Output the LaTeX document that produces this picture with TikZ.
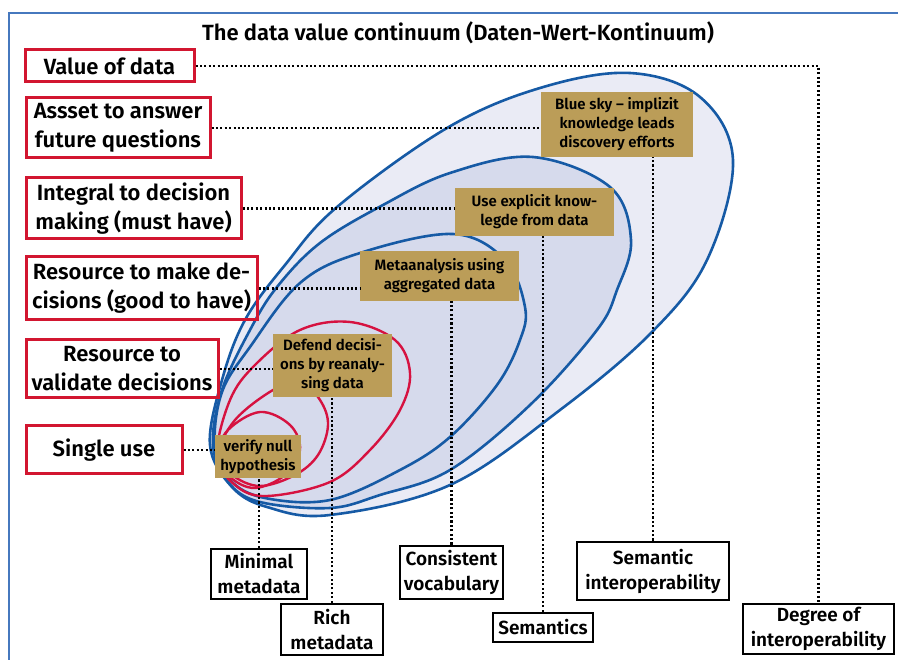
\documentclass[tikz,border=0pt]{standalone}
\usepackage{fontspec}
\setmainfont{Fira Sans}[BoldFont={Fira Sans SemiBold}]
\definecolor{loopblue}{RGB}{22,90,165}
\definecolor{looppink}{RGB}{214,18,64}
\definecolor{outerfill}{RGB}{234,235,245}
\definecolor{innerfill}{RGB}{214,218,236}
\definecolor{gold}{RGB}{187,157,88}
\definecolor{boxred}{RGB}{210,22,48}
\definecolor{frameblue}{RGB}{70,120,190}

\begin{document}
\begin{tikzpicture}[x=1pt, y=-1pt,
    redlabel/.style={draw=boxred, line width=3pt, inner sep=0pt, align=center,
      font=\fontsize{22}{29}\selectfont\bfseries},
    blacklabel/.style={draw=black, line width=2.8pt, inner sep=0pt, align=center,
      font=\fontsize{19}{25}\selectfont\bfseries},
    goldbox/.style={fill=gold, inner sep=0pt, align=center,
      font=\fontsize{15}{19}\selectfont\bfseries},
    bluering/.style={draw=loopblue, line width=2.6pt},
    redring/.style={draw=looppink, line width=2.4pt},
    dots/.style={line width=2.1pt, dash pattern=on 2.1pt off 2.3pt}]
    \useasboundingbox (0,0) rectangle (898,660);
    \draw[frameblue, line width=1.4pt] (9,660) -- (9,13) -- (898,13);

    \draw[bluering, fill=outerfill] plot[smooth cycle, tension=0.6] coordinates {
        (210,445) (222,380) (245,320) (285,265) (337,207) (447,128) (540,88)
        (630,73) (700,97) (733,160) (707,260) (651,333) (560,410) (450,485)
        (330,515) (267,507) (232,487)};
    \draw[bluering, fill=innerfill] plot[smooth cycle, tension=0.6] coordinates {
        (213,445) (222,390) (250,330) (277,287) (320,243) (383,205) (450,173)
        (533,157) (610,187) (631,240) (617,290) (597,330) (530,405) (450,470)
        (380,495) (330,508) (260,502) (228,482)};
    \draw[bluering, fill=innerfill] plot[smooth cycle, tension=0.6] coordinates {
        (215,445) (222,392) (250,347) (300,283) (360,253) (453,234) (505,260)
        (525,307) (520,340) (497,385) (450,437) (400,470) (330,500) (265,498)
        (230,480)};
    \draw[redring] plot[smooth cycle, tension=0.6] coordinates {
        (217,455) (230,400) (255,365) (300,330) (350,322) (395,340) (410,373)
        (400,410) (370,450) (330,482) (267,496) (235,485)};
    \draw[redring] plot[smooth cycle, tension=0.6] coordinates {
        (218,455) (235,420) (273,390) (300,382) (320,400) (328,425) (318,455)
        (295,475) (260,486) (232,475)};
    \draw[redring] plot[smooth cycle, tension=0.6] coordinates {
        (218,455) (228,430) (260,412) (290,425) (300,450) (285,475) (255,488)
        (230,477)};

    \node[font=\fontsize{22}{26}\selectfont\bfseries] (title) at (458,33)
        {The data value continuum (Daten-Wert-Kontinuum)};

    \node[redlabel, minimum width=169, minimum height=32] (value) at (109.5,66)
        {Value of data};
    \node[redlabel, minimum width=184, minimum height=60] (asset) at (118,128)
        {Assset to answer\\future questions};
    \node[redlabel, minimum width=215, minimum height=61] (integral) at (133.5,208.5)
        {Integral to decision\\making (must have)};
    \node[redlabel, minimum width=231, minimum height=63] (resmake) at (141.5,288.5)
        {Resource to make de-\\cisions (good to have)};
    \node[redlabel, minimum width=192, minimum height=58] (validate) at (122,369)
        {Resource to\\validate decisions};
    \node[redlabel, minimum width=156, minimum height=48] (single) at (104,450)
        {Single use};

    \node[goldbox, minimum width=152, minimum height=65] (bluesky) at (617,124.5)
        {Blue sky – implizit\\knowledge leads\\discovery efforts};
    \node[goldbox, minimum width=159, minimum height=48] (explicit) at (534.5,212)
        {Use explicit know-\\legde from data};
    \node[goldbox, minimum width=159, minimum height=50] (meta) at (439.5,276)
        {Metaanalysis using\\aggregated data};
    \node[goldbox, minimum width=119, minimum height=63] (defend) at (332.5,365.5)
        {Defend decisi-\\ons by reanaly-\\sing data};
    \node[goldbox, minimum width=86, minimum height=43] (verify) at (258,456.5)
        {verify null\\hypothesis};

    \node[blacklabel, minimum width=96, minimum height=50] (minimal) at (259,574)
        {Minimal\\metadata};
    \node[blacklabel, minimum width=102, minimum height=51] (rich) at (332,629.5)
        {Rich\\metadata};
    \node[blacklabel, minimum width=103, minimum height=53] (consistent) at (451.5,572.5)
        {Consistent\\vocabulary};
    \node[blacklabel, minimum width=100, minimum height=29] (semantics) at (543,627.5)
        {Semantics};
    \node[blacklabel, minimum width=152, minimum height=58] (seminterop) at (653,571)
        {Semantic\\interoperability};
    \node[blacklabel, minimum width=151, minimum height=50] (degree) at (818.5,629)
        {Degree of\\interoperability};

    \draw[dots] (value.east) -| (degree.north);
    \draw[dots] (asset.east) -- (asset.east -| bluesky.west);
    \draw[dots] (integral.east) -- (integral.east -| explicit.west);
    \draw[dots] (resmake.east) -- (resmake.east -| meta.west);
    \draw[dots] (validate.east) -- (validate.east -| defend.west);
    \draw[dots] (single.east) -- (single.east -| verify.west);
    \draw[dots] (minimal.north) -- (minimal.north |- verify.south);
    \draw[dots] (rich.north) -- (rich.north |- defend.south);
    \draw[dots] (consistent.north) -- (consistent.north |- meta.south);
    \draw[dots] (semantics.north) -- (semantics.north |- explicit.south);
    \draw[dots] (seminterop.north) -- (seminterop.north |- bluesky.south);
\end{tikzpicture}
\end{document}
